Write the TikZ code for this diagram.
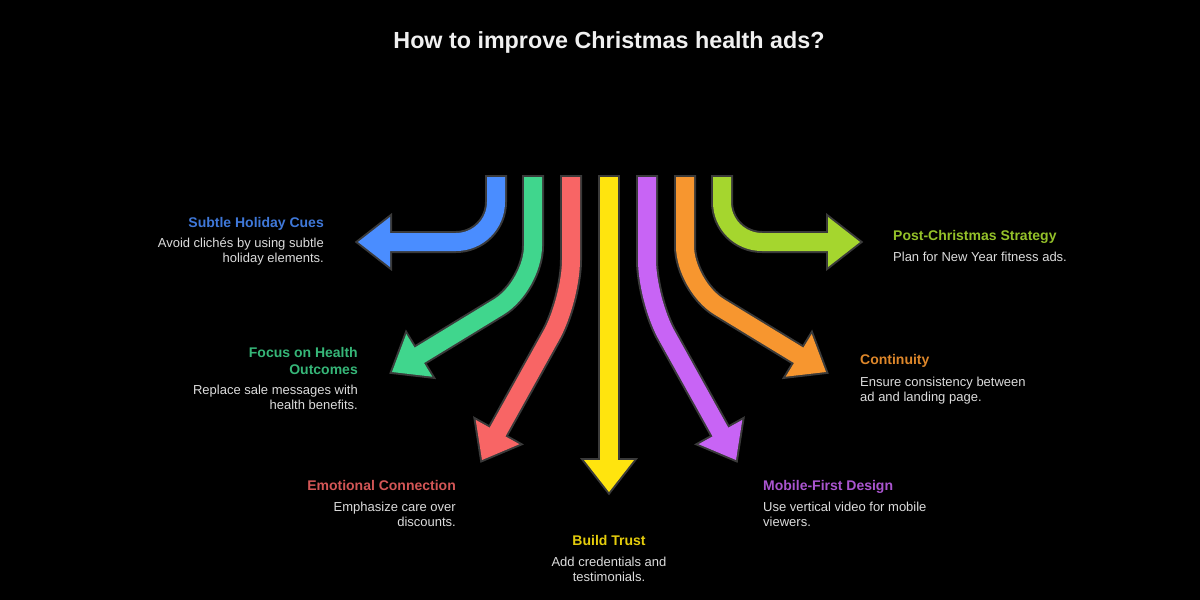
\documentclass[tikz,border=0pt]{standalone}
\usepackage{fontspec}
\setmainfont{Liberation Sans}
\usepackage{tikz}
\usetikzlibrary{calc}
\usetikzlibrary{positioning}

\definecolor{cuesblue}{HTML}{4A8DFF}
\definecolor{focusgreen}{HTML}{40D68D}
\definecolor{emored}{HTML}{F86565}
\definecolor{trustyellow}{HTML}{FFE40E}
\definecolor{mobilepurple}{HTML}{C864F5}
\definecolor{contorange}{HTML}{F7962F}
\definecolor{postlime}{HTML}{A5D62E}
\definecolor{rim}{HTML}{3A3A3A}
\definecolor{notegray}{HTML}{DCDCDC}
\definecolor{titlewhite}{HTML}{F0F0F0}

\begin{document}
\begin{tikzpicture}
		[
		x=1pt, y=-1pt,
		line join=round
		]
		
		% Background and page size
		\fill[black](0,0)rectangle(1200,600);
		\useasboundingbox(0,0)rectangle(1200,600);
		
		% Arrow styles: dark rim first, colour on top
		\tikzstyle{arrow rim}=[draw=rim,line width=22pt,rounded corners=40pt,shorten <=-2pt];
		\tikzstyle{arrow body}=[line width=18pt,rounded corners=40pt,shorten >=-3pt];
		\tikzstyle{head rim}=[draw=rim,fill=rim,line width=4pt,line join=miter];
		% Text styles
		\tikzstyle{heading}=[inner sep=0,font=\fontsize{14}{17}\selectfont\bfseries];
		\tikzstyle{note}=[inner sep=0,text=notegray,font=\fontsize{13}{15}\selectfont];
		
		% Title
		\node[inner sep=0,anchor=base,text=titlewhite,font=\fontsize{23.3}{28}\selectfont\bfseries](title)at(609,48){How to improve Christmas health ads?};
		
		% The arrows: start x, corner y, tip x, tip y
		\foreach \n/\sx/\cy/\tx/\ty/\col in
			{cues/496/242/358/242/cuesblue,
			 focus/533/286/392/372/focusgreen,
			 emo/571/300/482/460/emored,
			 trust/609/300/609/492/trustyellow,
			 mobile/647/300/736/460/mobilepurple,
			 cont/685/286/826/372/contorange,
			 post/722/242/860/242/postlime}
		{
			\coordinate(s-\n)at(\sx,177);
			\coordinate(c-\n)at(\sx,\cy);
			\coordinate(t-\n)at(\tx,\ty);
			\coordinate(b-\n)at($(t-\n)!32pt!(c-\n)$);
			\coordinate(w1-\n)at($(b-\n)!25pt!90:(t-\n)$);
			\coordinate(w2-\n)at($(b-\n)!25pt!-90:(t-\n)$);
			\draw[arrow rim](s-\n)--(c-\n)--(b-\n);
			\filldraw[head rim](w1-\n)--(t-\n)--(w2-\n)--cycle;
			\draw[arrow body,draw=\col](s-\n)--(c-\n)--(b-\n);
			\fill[\col](w1-\n)--(t-\n)--(w2-\n)--cycle;
		}
		
		% Labels, left side (base = last line)
		\node[heading,anchor=base east,text=cuesblue!85!black](h-cues)at(324,227){Subtle Holiday Cues};
		\node[note,anchor=base east,align=right](n-cues)at(324,262.5){Avoid clichés by using subtle\\holiday elements.};
		\node[heading,anchor=base east,align=right,text=focusgreen!85!black](h-focus)at(358,374){Focus on Health\\Outcomes};
		\node[note,anchor=base east,align=right](n-focus)at(358,409.5){Replace sale messages with\\health benefits.};
		\node[heading,anchor=base east,text=emored!85!black](h-emo)at(456,490){Emotional Connection};
		\node[note,anchor=base east,align=right](n-emo)at(456,526.5){Emphasize care over\\discounts.};
		
		% Label, bottom
		\node[heading,anchor=base,text=trustyellow!90!black](h-trust)at(609,545){Build Trust};
		\node[note,anchor=base,align=center](n-trust)at(609,581.5){Add credentials and\\testimonials.};
		
		% Labels, right side
		\node[heading,anchor=base west,text=mobilepurple!85!black](h-mobile)at(763,490){Mobile-First Design};
		\node[note,anchor=base west,align=left](n-mobile)at(763,526.5){Use vertical video for mobile\\viewers.};
		\node[heading,anchor=base west,text=contorange!90!black](h-cont)at(860,364){Continuity};
		\node[note,anchor=base west,align=left](n-cont)at(860,401.5){Ensure consistency between\\ad and landing page.};
		\node[heading,anchor=base west,text=postlime!90!black](h-post)at(893,240){Post-Christmas Strategy};
		\node[note,anchor=base west](n-post)at(893,261.5){Plan for New Year fitness ads.};
		
		\end{tikzpicture}
\end{document}
